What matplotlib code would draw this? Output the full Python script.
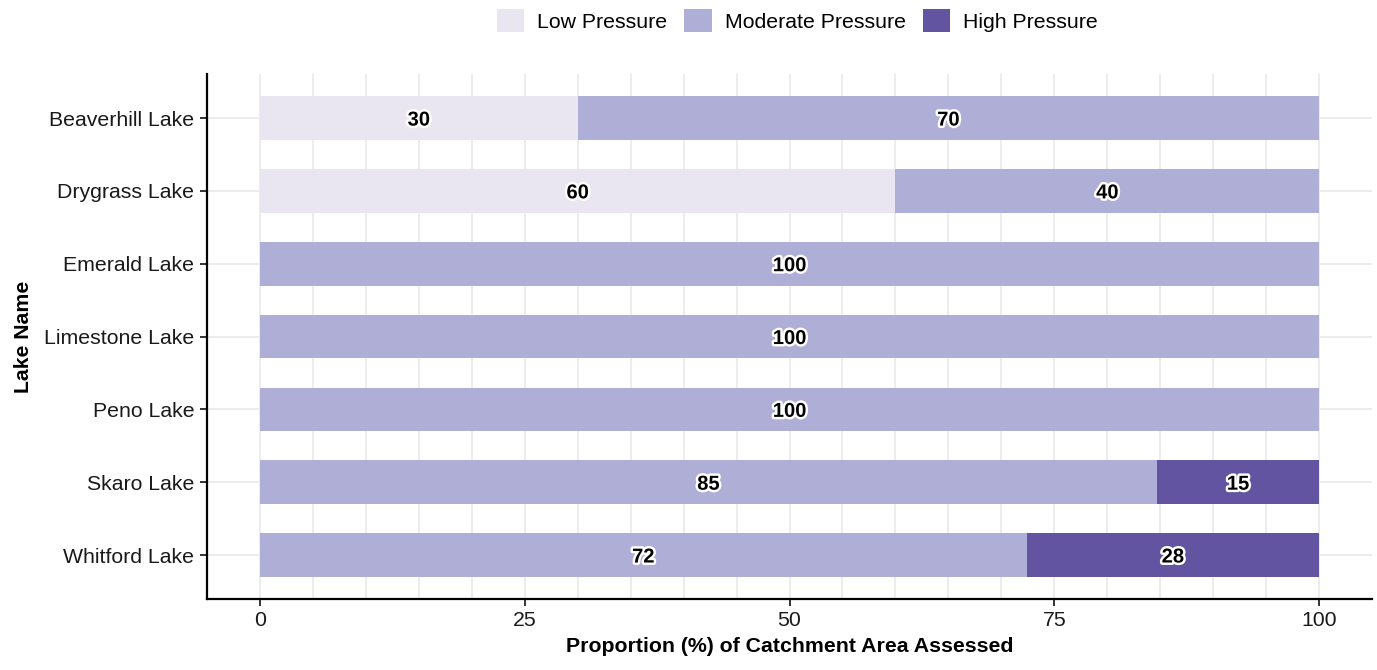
import matplotlib.pyplot as plt
import matplotlib.patheffects as pe
from matplotlib.patches import Patch
import numpy as np

plt.rcParams['font.family'] = ['Liberation Sans', 'DejaVu Sans']

lakes = ["Beaverhill Lake", "Drygrass Lake", "Emerald Lake", "Limestone Lake",
         "Peno Lake", "Skaro Lake", "Whitford Lake"]
low = [30, 60, 0, 0, 0, 0, 0]
moderate = [70, 40, 100, 100, 100, 84.7, 72.4]
high = [0, 0, 0, 0, 0, 15.3, 27.6]

categories = ["Low Pressure", "Moderate Pressure", "High Pressure"]
colors = ["#E9E6F2", "#AEAED6", "#6254A0"]

fig = plt.figure(figsize=(13.77, 6.70), dpi=100)
ax = fig.add_axes([0.1503, 0.1064, 0.8461, 0.7826])

ypos = np.arange(len(lakes))
left = np.zeros(len(lakes))
for vals, col in zip([low, moderate, high], colors):
    vals = np.array(vals, dtype=float)
    ax.barh(ypos, vals, left=left, height=0.6, color=col, zorder=2)
    for y, l, v in zip(ypos, left, vals):
        if v > 0:
            ax.text(l + v / 2, y, "%.0f" % v, ha="center", va="center_baseline",
                    fontsize=14.5, fontweight="bold", color="black", zorder=3,
                    path_effects=[pe.withStroke(linewidth=3.5, foreground="white")])
    left += vals

ax.set_xlim(-5, 105)
ax.set_ylim(len(lakes) - 0.4, -0.6)
ax.set_yticks(ypos)
ax.set_yticklabels(lakes, fontsize=15.3, color="#1a1a1a")
ax.set_xticks([0, 25, 50, 75, 100])
ax.set_xticklabels(["0", "25", "50", "75", "100"], fontsize=15.3, color="#1a1a1a")
for gx in np.arange(0, 100.1, 5):
    ax.axvline(gx, color="#EBEBEB", lw=1.3, zorder=0)
for gy in ypos:
    ax.axhline(gy, color="#EBEBEB", lw=1.3, zorder=0)

for s in ["top", "right"]:
    ax.spines[s].set_visible(False)
for s in ["left", "bottom"]:
    ax.spines[s].set_linewidth(1.6)
    ax.spines[s].set_color("black")
ax.tick_params(length=5, width=1.4, color="#333333", pad=4)

ax.set_xlabel("Proportion (%) of Catchment Area Assessed", fontsize=15.3,
              fontweight="bold", labelpad=5)
ax.set_ylabel("Lake Name", fontsize=15.3, fontweight="bold", labelpad=8)

handles = [Patch(facecolor=c, edgecolor="none", label=n) for c, n in zip(colors, categories)]
fig.legend(handles=handles, loc="center", bbox_to_anchor=(0.579, 0.969), ncol=3,
           frameon=False, fontsize=15.3, handlelength=1.3, handleheight=1.3,
           handletextpad=0.6, columnspacing=0.8)

fig.savefig("out.png", dpi=100)
